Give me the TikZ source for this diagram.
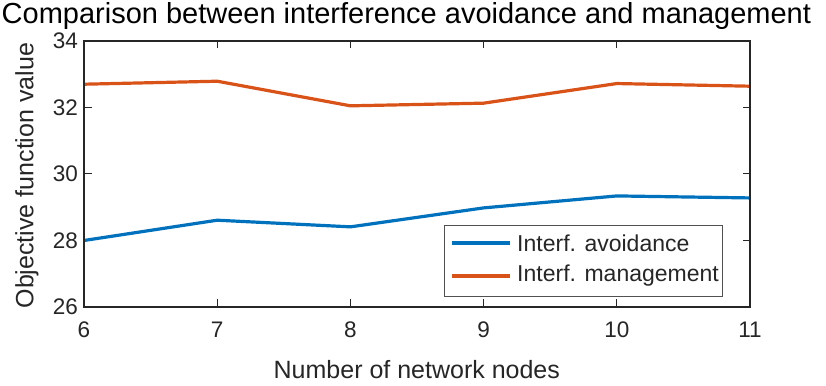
\documentclass[tikz,border=0pt]{standalone}
\usepackage{fontspec}
\setmainfont{Liberation Sans}
\usetikzlibrary{positioning}
\definecolor{axgray}{RGB}{38,38,38}
\definecolor{avoidblue}{RGB}{0,114,189}
\definecolor{mgmtorange}{RGB}{217,83,25}
\tikzset{
  axisline/.style={draw=axgray,line width=1.4pt,line cap=rect},
  ticklabel/.style={font=\fontsize{22.5}{26}\selectfont,text=axgray,inner sep=0pt},
  curve/.style={line width=3.2pt,line join=round}
}
\begin{document}
\begin{tikzpicture}[x=133.2pt,y=33.25pt]
\useasboundingbox[fill=white] (5.3694,23.6541) rectangle (11.5706,35.2331);
  \begin{scope}[]% layer1
    % axes box
    \coordinate (ll) at (6,26);
    \coordinate (ur) at (11,34);
    \foreach \xv in {7,...,10} {
      \draw[axisline,line width=1pt] (\xv,26) -- ++(0,7pt);
      \draw[axisline,line width=1pt] (\xv,34) -- ++(0,-7pt);
    }
    \foreach \yv in {28,30,32} {
      \draw[axisline,line width=1pt] (6,\yv) -- ++(7pt,0);
      \draw[axisline,line width=1pt] (11,\yv) -- ++(-7pt,0);
    }
    \foreach \xv in {6,...,11}
      \node[ticklabel,anchor=north] (xt\xv) at ([yshift=-15pt]\xv,26) {\xv};
    \foreach \yv in {26,28,...,34}
      \node[ticklabel,anchor=east] (yt\yv) at ([xshift=-6pt]6,\yv) {\yv};

    % curves
    \draw[curve,avoidblue] (6,28.00) -- (7,28.61) -- (8,28.41) -- (9,28.98) -- (10,29.34) -- (11,29.28);
    \draw[curve,mgmtorange] (6,32.70) -- (7,32.79) -- (8,32.05) -- (9,32.13) -- (10,32.72) -- (11,32.64);

    \draw[axisline] (ll) rectangle (ur);

    % legend
    \draw[draw=axgray!80,line width=0.8pt,fill=white] (8.7027,26.331) rectangle (10.7898,28.466);
    \coordinate (la) at (8.763,27.925);
    \coordinate (lb) at (8.763,26.932);
    \draw[curve,avoidblue,line cap=butt] (la) -- ++(58pt,0) coordinate (la2);
    \draw[curve,mgmtorange,line cap=butt] (lb) -- ++(58pt,0) coordinate (lb2);
    \node[ticklabel,anchor=west,font=\fontsize{23}{26}\selectfont] (avoid) at ([xshift=7pt]la2) {Interf. avoidance};
    \node[ticklabel,anchor=west,font=\fontsize{23}{26}\selectfont] (mgmt) at ([xshift=7pt]lb2) {Interf. management};

    % labels
    \node[ticklabel,font=\fontsize{25}{28}\selectfont] (xlab) at (8.4985,24.12) {Number of network nodes};
    \node[ticklabel,font=\fontsize{25}{28}\selectfont,rotate=90] (ylab) at (5.5705,29.95) {Objective function value};
    \node[ticklabel,font=\fontsize{29}{32}\selectfont,text=black] (title) at (8.42,34.74) {Comparison between interference avoidance and management};
  \end{scope}
\end{tikzpicture}
\end{document}
